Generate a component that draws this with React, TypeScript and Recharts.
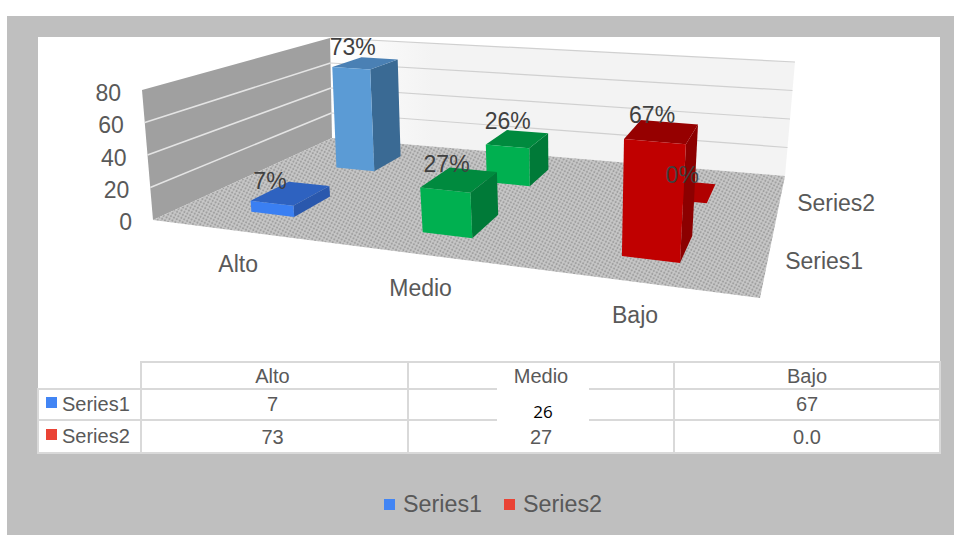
import React from "react";
import { Bar, BarChart, XAxis, YAxis } from "recharts";

const categories = ["Alto", "Medio", "Bajo"];
const series1Values = [7, 27, 67];
const series2Values = [73, 26, 0];
const yTicks = [0, 20, 40, 60, 80];
const seriesNames = ["Series1", "Series2"];
// the table does not quite agree with the bars in the source picture
const tableSeries1 = ["7", "26", "67"];
const tableSeries2 = ["73", "27", "0.0"];

const chartData = categories.map((name, i) => ({
  name,
  series1: series1Values[i],
  series2: series2Values[i],
}));

const FONT = '"Liberation Sans", Arial, sans-serif';
const W = 954;
const H = 535;
const PLOT_L = 126;
const PLOT_R = 760;
const PLOT_T = 92;
const PLOT_B = 222;
const PLOT_W = PLOT_R - PLOT_L;
const PLOT_H = PLOT_B - PLOT_T;
const BAR_SIZE = 55;

type Pt = [number, number];

// unit square -> quad, corners given as front-left, front-right, back-right, back-left
function homography(q: Pt[]) {
  const [[x0, y0], [x1, y1], [x2, y2], [x3, y3]] = q;
  const dx1 = x1 - x2, dx2 = x3 - x2, sx = x0 - x1 + x2 - x3;
  const dy1 = y1 - y2, dy2 = y3 - y2, sy = y0 - y1 + y2 - y3;
  const den = dx1 * dy2 - dx2 * dy1;
  const g = (sx * dy2 - dx2 * sy) / den;
  const h = (dx1 * sy - sx * dy1) / den;
  const a = x1 - x0 + g * x1, b = x3 - x0 + h * x3;
  const d = y1 - y0 + g * y1, e = y3 - y0 + h * y3;
  return (u: number, v: number): Pt => {
    const w = g * u + h * v + 1;
    return [(a * u + b * v + x0) / w, (d * u + e * v + y0) / w];
  };
}

const floorAt = homography([[153, 220], [760, 298], [785, 176], [332, 138]]);
const ceilAt = homography([[142, 90], [776, 145], [795, 62], [330, 38]]);

// t is the share of the value axis, 0 on the floor and 1 at the top of the walls
function project(u: number, v: number, t: number): Pt {
  const f = floorAt(u, v);
  const c = ceilAt(u, v);
  return [f[0] + (c[0] - f[0]) * t, f[1] + (c[1] - f[1]) * t];
}

const pts = (list: Pt[]) => list.map((p) => `${p[0].toFixed(1)},${p[1].toFixed(1)}`).join(" ");

const rows = {
  front: {
    depth: [0.15, 0.35],
    face: ["#3a7ff2", "#00b050", "#c00000"],
    side: ["#2a58ad", "#007a38", "#8c0000"],
    top: ["#2e62c0", "#008a3e", "#960000"],
    labelDx: [-8, 0, 3],
    labelDy: [4, 0, 0],
  },
  back: {
    depth: [0.64, 0.84],
    face: ["#5b9bd5", "#00b050", "#c00000"],
    side: ["#3a6a94", "#007a38", "#8c0000"],
    top: ["#4a80b4", "#008a3e", "#b00000"],
    labelDx: [0, 3, 8],
    labelDy: [0, -2, 0],
  },
};

const toU = (x: number) => (x - PLOT_L) / PLOT_W;

function Bar3D(props: any) {
  const { x, width, height, index, row } = props;
  const conf = rows[row as "front" | "back"];
  const [v0, v1] = conf.depth;
  const u0 = toU(x);
  const u1 = toU(x + width);
  const t = height / PLOT_H;
  return (
    <g>
      <polygon
        points={pts([project(u1, v0, 0), project(u1, v1, 0), project(u1, v1, t), project(u1, v0, t)])}
        fill={conf.side[index]}
      />
      <polygon
        points={pts([project(u0, v0, t), project(u1, v0, t), project(u1, v1, t), project(u0, v1, t)])}
        fill={conf.top[index]}
      />
      <polygon
        points={pts([project(u0, v0, 0), project(u1, v0, 0), project(u1, v0, t), project(u0, v0, t)])}
        fill={conf.face[index]}
      />
    </g>
  );
}

// drawn by a second, empty bar so the labels sit above all of the boxes
function ValueLabel(props: any) {
  const { x, width, height, index, row, dataKey, payload } = props;
  const conf = rows[row as "front" | "back"];
  const [v0, v1] = conf.depth;
  const [px, py] = project(toU(x + width / 2), (v0 + v1) / 2, height / PLOT_H);
  return (
    <text
      x={px - 13 + conf.labelDx[index]}
      y={py - 16 + conf.labelDy[index]}
      textAnchor="middle"
      dominantBaseline="central"
      fontFamily={FONT}
      fontSize={23}
      fill="#404040"
    >
      {payload[dataKey]}%
    </text>
  );
}

function CategoryTick(props: any) {
  const { payload } = props;
  const [px, py] = project(toU(payload.coordinate), 0, 0);
  return (
    <text
      x={px - 3}
      y={py + 33}
      textAnchor="middle"
      dominantBaseline="central"
      fontFamily={FONT}
      fontSize={23}
      fill="#595959"
    >
      {payload.value}
    </text>
  );
}

// value ticks follow the slanted front edge of the left wall
function ValueTick(props: any) {
  const { payload } = props;
  const [px] = project(0, 0, payload.value / 80);
  return (
    <text
      x={px - 21}
      y={payload.coordinate + 1}
      textAnchor="end"
      dominantBaseline="central"
      fontFamily={FONT}
      fontSize={23}
      fill="#595959"
    >
      {payload.value}
    </text>
  );
}

function Walls() {
  const inner = yTicks.slice(1, -1);
  const depthLabels = [
    { name: seriesNames[0], row: rows.front },
    { name: seriesNames[1], row: rows.back },
  ];
  return (
    <svg width={W} height={H} style={{ position: "absolute", left: 0, top: 0 }}>
      <defs>
        <pattern id="floor-dots" width="3.3" height="3.3" patternUnits="userSpaceOnUse" patternTransform="rotate(28)">
          <rect width="3.3" height="3.3" fill="#c8c8c8" />
          <circle cx="1.6" cy="1.6" r="1.1" fill="#a0a0a0" />
        </pattern>
        <linearGradient id="back-wall" x1="0" y1="0" x2="1" y2="0">
          <stop offset="0%" stopColor="#ffffff" />
          <stop offset="22%" stopColor="#f3f3f3" />
          <stop offset="100%" stopColor="#f3f3f3" />
        </linearGradient>
      </defs>
      <polygon points={pts([project(0, 1, 0), project(1, 1, 0), project(1, 1, 1), project(0, 1, 1)])} fill="url(#back-wall)" />
      <polygon points={pts([project(0, 0, 0), project(0, 1, 0), project(0, 1, 1), project(0, 0, 1)])} fill="#a0a0a0" />
      <polygon points={pts([project(0, 0, 0), project(1, 0, 0), project(1, 1, 0), project(0, 1, 0)])} fill="url(#floor-dots)" />
      {inner.map((v) => (
        <polyline key={`l${v}`} points={pts([project(0, 0, v / 80), project(0, 1, v / 80)])} stroke="#e4e4e4" strokeWidth={1.5} fill="none" />
      ))}
      {[...inner, 80].map((v) => (
        <polyline key={`b${v}`} points={pts([project(0, 1, v / 80), project(1, 1, v / 80)])} stroke="#d0d0d0" strokeWidth={1.2} fill="none" />
      ))}
      {depthLabels.map(({ name, row }) => {
        const [px, py] = project(1, (row.depth[0] + row.depth[1]) / 2, 0);
        return (
          <text
            key={name}
            x={px + 56}
            y={py + 3}
            textAnchor="middle"
            dominantBaseline="central"
            fontFamily={FONT}
            fontSize={23}
            fill="#595959"
          >
            {name}
          </text>
        );
      })}
    </svg>
  );
}

const cellBorder = "2px solid #d9d9d9";

function DataTable() {
  const cols = [103, 267, 266, 266];
  const tableRows = [
    { name: seriesNames[0], color: "#4285f4", values: tableSeries1, h: 31 },
    { name: seriesNames[1], color: "#ea4335", values: tableSeries2, h: 33 },
  ];
  return (
    <table
      style={{
        position: "absolute",
        left: 37,
        top: 361,
        width: 902,
        borderCollapse: "collapse",
        tableLayout: "fixed",
        fontFamily: FONT,
        fontSize: 20,
        color: "#595959",
      }}
    >
      <colgroup>
        {cols.map((c, i) => (
          <col key={i} style={{ width: c }} />
        ))}
      </colgroup>
      <tbody>
        <tr style={{ height: 27 }}>
          <td style={{ padding: 0 }} />
          {categories.map((c, i) => (
            <td key={c} style={{ border: cellBorder, padding: `2px ${i === 0 ? 4 : 0}px 0 0`, textAlign: "center" }}>
              {c}
            </td>
          ))}
        </tr>
        {tableRows.map((r, ri) => (
          <tr key={r.name} style={{ height: r.h }}>
            <td style={{ border: cellBorder, padding: "0 0 0 7px", whiteSpace: "nowrap" }}>
              <span style={{ display: "inline-block", width: 11, height: 11, background: r.color, marginRight: 5, verticalAlign: 3 }} />
              {r.name}
            </td>
            {r.values.map((v, i) => (
              <td key={i} style={{ border: cellBorder, padding: `${ri === 1 ? 2 : 0}px ${i === 0 ? 4 : 0}px 0 0`, textAlign: "center" }}>
                {/* Medio / Series1 is written on the white patch below */}
                {ri === 0 && i === 1 ? null : v}
              </td>
            ))}
          </tr>
        ))}
      </tbody>
    </table>
  );
}

export default function App() {
  return (
    <div style={{ position: "absolute", left: 0, top: 0, width: W, height: H, background: "#ffffff", overflow: "hidden" }}>
      <div style={{ position: "absolute", left: 7, top: 16, right: 0, bottom: 0, background: "#bfbfbf" }} />
      <div style={{ position: "absolute", left: 38, top: 37, width: 902, height: 416, background: "#ffffff" }} />
      <Walls />
      <div style={{ position: "absolute", left: 0, top: 0 }}>
        <BarChart
          width={W}
          height={H}
          data={chartData}
          barGap={-BAR_SIZE}
          barSize={BAR_SIZE}
          margin={{ top: PLOT_T, bottom: H - PLOT_B, left: 0, right: W - PLOT_R }}
        >
          <XAxis dataKey="name" height={1} axisLine={false} tickLine={false} tick={CategoryTick} interval={0} padding={{ left: 9, right: 0 }} />
          <YAxis
            width={PLOT_L}
            domain={[0, 80]}
            ticks={yTicks}
            axisLine={false}
            tickLine={false}
            tick={ValueTick}
          />
          <Bar dataKey="series2" isAnimationActive={false} shape={(p: any) => <Bar3D {...p} row="back" />} />
          <Bar dataKey="series1" isAnimationActive={false} shape={(p: any) => <Bar3D {...p} row="front" />} />
          <Bar dataKey="series2" isAnimationActive={false} shape={(p: any) => <ValueLabel {...p} row="back" dataKey="series2" />} />
          <Bar dataKey="series1" isAnimationActive={false} shape={(p: any) => <ValueLabel {...p} row="front" dataKey="series1" />} />
        </BarChart>
      </div>
      <DataTable />
      {/* white patch over the Medio / Series1 cell, as pasted over the source picture */}
      <div
        style={{
          position: "absolute",
          left: 497,
          top: 387,
          width: 92,
          height: 19,
          paddingTop: 15,
          background: "#ffffff",
          textAlign: "center",
          fontFamily: '"Open Sans", sans-serif',
          fontSize: 17,
          lineHeight: "20px",
          color: "#000000",
        }}
      >
        {tableSeries1[1]}
      </div>
      <div
        style={{
          position: "absolute",
          left: 384,
          top: 490,
          display: "flex",
          alignItems: "center",
          fontFamily: FONT,
          fontSize: 23.3,
          height: 28,
          color: "#595959",
        }}
      >
        {seriesNames.map((s, i) => (
          <React.Fragment key={s}>
            <span style={{ width: 11, height: 11, background: i === 0 ? "#4285f4" : "#ea4335", marginRight: 8, marginLeft: i === 0 ? 0 : 22 }} />
            {s}
          </React.Fragment>
        ))}
      </div>
    </div>
  );
}
